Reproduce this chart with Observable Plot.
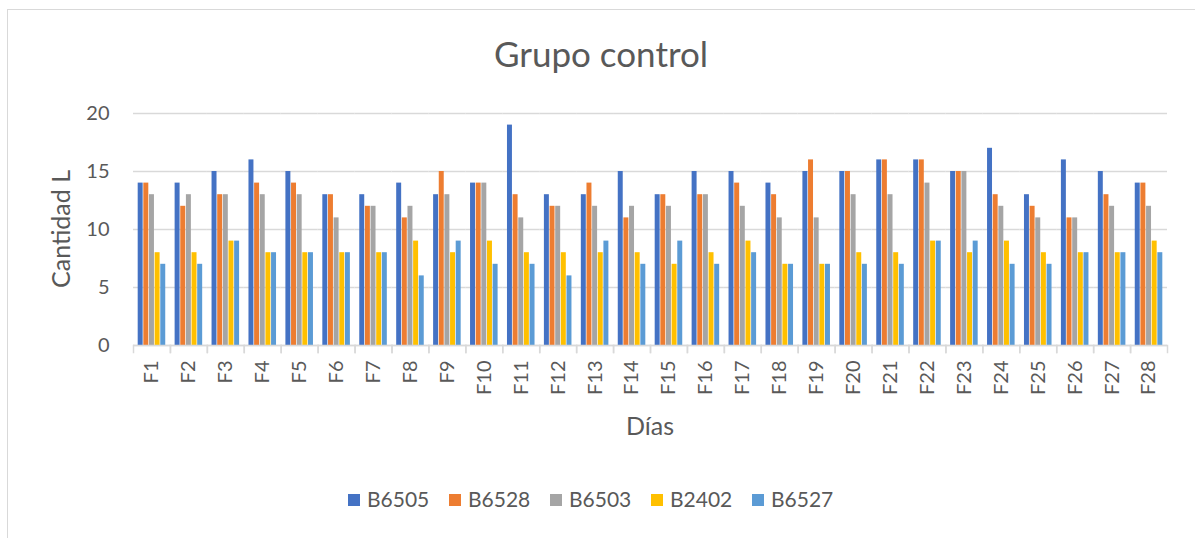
<!DOCTYPE html>
<html>
<head>
<meta charset="utf-8">
<script src="https://cdn.jsdelivr.net/npm/d3@7"></script>
<script src="https://cdn.jsdelivr.net/npm/@observablehq/plot@0.6"></script>
<style>
  html, body { margin: 0; padding: 0; background: #fff; }
  #wrap { position: relative; width: 1195px; height: 538px; overflow: hidden; font-family: Lato, "Open Sans", sans-serif; }
  #border { position: absolute; left: 7px; top: 9px; width: 1300px; height: 700px; border-left: 1px solid #d9d9d9; border-top: 1px solid #d9d9d9; }
  #chart, #overlay { position: absolute; left: 0; top: 0; }
</style>
</head>
<body>
<div id="wrap">
  <div id="border"></div>
  <div id="chart"></div>
  <svg id="overlay" width="1195" height="538"></svg>
</div>
<script>
const days = Array.from({length: 28}, (_, i) => "F" + (i + 1));
const series = ["B6505", "B6528", "B6503", "B2402", "B6527"];
const colors = ["#4472C4", "#ED7D31", "#A5A5A5", "#FFC000", "#5B9BD5"];
const yTicks = [0, 5, 10, 15, 20];

const B6505 = [14,14,15,16,15,13,13,14,13,14,19,13,13,15,13,15,15,14,15,15,16,16,15,17,13,16,15,14];
const B6528 = [14,12,13,14,14,13,12,11,15,14,13,12,14,11,13,13,14,13,16,15,16,16,15,13,12,11,13,14];
const B6503 = [13,13,13,13,13,11,12,12,13,14,11,12,12,12,12,13,12,11,11,13,13,14,15,12,11,11,12,12];
const B2402 = [8,8,9,8,8,8,8,9,8,9,8,8,8,8,7,8,9,7,7,8,8,9,8,9,8,8,8,9];
const B6527 = [7,7,9,8,8,8,8,6,9,7,7,6,9,7,9,7,8,7,7,7,7,9,9,7,7,8,8,8];

const valuesBySeries = {B6505, B6528, B6503, B2402, B6527};
const data = [];
days.forEach((d, i) => {
  series.forEach(s => data.push({day: d, series: s, value: valuesBySeries[s][i]}));
});

const W = 1195, H = 538;
const mTop = 113, mBottom = 193, mLeft = 133, mRight = 28;
const plotH = H - mTop - mBottom;
const textColor = "#595959";
const gridColor = "#d9d9d9";

const chart = Plot.plot({
  width: W,
  height: H,
  marginTop: mTop,
  marginBottom: mBottom,
  marginLeft: mLeft,
  marginRight: mRight,
  style: {fontFamily: "Lato, 'Open Sans', sans-serif", background: "transparent", color: textColor},
  fx: {domain: days, padding: 0, round: false},
  x: {domain: series, paddingInner: 0.12, paddingOuter: 0.83, round: false, axis: null},
  y: {domain: [0, 20]},
  color: {domain: series, range: colors},
  marks: [
    Plot.gridY(yTicks, {stroke: gridColor, strokeOpacity: 1, strokeWidth: 1.5}),
    Plot.barY(data, {fx: "day", x: "series", y: "value", fill: "series"}),
    Plot.ruleY([0], {stroke: gridColor, strokeWidth: 1.5}),
    Plot.frame({anchor: "left", stroke: gridColor, strokeWidth: 1.5, insetTop: plotH, insetBottom: -7}),
    Plot.frame({anchor: "right", stroke: gridColor, strokeWidth: 1.5, insetTop: plotH, insetBottom: -7}),
    Plot.axisY(yTicks, {tickSize: 0, tickPadding: 24, fontSize: 20, fill: textColor, label: null}),
    Plot.axisFx({anchor: "bottom", tickSize: 0, tickPadding: 15, tickRotate: -90, fontSize: 20, fill: textColor, label: null})
  ]
});
document.getElementById("chart").appendChild(chart);

// Titles and legend
const ov = d3.select("#overlay").style("font-family", "Lato, 'Open Sans', sans-serif");
ov.append("text").attr("x", 601).attr("y", 67).attr("text-anchor", "middle")
  .attr("font-size", 35).attr("fill", textColor).text("Grupo control");
ov.append("text").attr("transform", "translate(70,229) rotate(-90)").attr("text-anchor", "middle")
  .attr("font-size", 25).attr("fill", textColor).text("Cantidad L");
ov.append("text").attr("x", 650).attr("y", 435).attr("text-anchor", "middle")
  .attr("font-size", 25).attr("fill", textColor).text("Días");

const lg = ov.append("g");
series.forEach((s, i) => {
  const x0 = 348 + i * 101;
  lg.append("rect").attr("x", x0).attr("y", 494).attr("width", 12).attr("height", 12).attr("fill", colors[i]);
  lg.append("text").attr("x", x0 + 19).attr("y", 507).attr("font-size", 21).attr("fill", textColor).text(s);
});
</script>
</body>
</html>
